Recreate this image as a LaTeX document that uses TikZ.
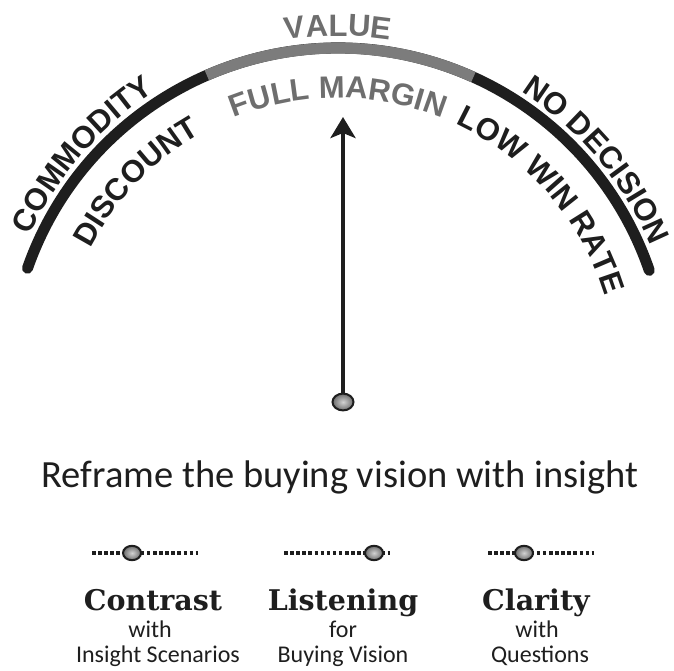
\documentclass[tikz,border=0pt]{standalone}
\usepackage{fontspec}
\setmainfont{Carlito}
\newfontfamily\gaugefont{Liberation Sans}
\newfontfamily\wordfont{DejaVu Serif}
\usetikzlibrary{arrows.meta,decorations.text,shapes.geometric,positioning}

\definecolor{ink}{HTML}{1E1E1E}
\definecolor{midgray}{HTML}{6E6E6E}
\definecolor{bandgray}{HTML}{7C7C7C}

\begin{document}
\begin{tikzpicture}[x=1pt,y=1pt,
  band/.style={line width=11, line cap=round, draw=ink},
  knob/.style={ellipse, draw=ink, line width=2, inner sep=0pt,
    inner color=gray!35, outer color=gray!85!black,
    minimum width=#1, minimum height=0.8*#1},
  dotline/.style={draw=ink, line width=3.5, dash pattern=on 3.5 off 2.6},
  word/.style={anchor=base, text=ink, font=\wordfont\bfseries\fontsize{28.5}{28.5}\selectfont},
  small/.style={anchor=base, text=ink, font=\fontsize{24}{24}\selectfont}]
  % page frame
  \useasboundingbox (0,0) rectangle (674,670);

  % the gauge arc
  \coordinate (centre) at (338,293);
  \draw[band] (centre) ++(160.7:329) arc[start angle=160.7, end angle=18.9, radius=329];
  \draw[line width=11, bandgray] (centre) ++(113.5:329) arc[start angle=113.5, end angle=65.7, radius=329];

  % labels round the arc
  \path[decorate, decoration={text along path, text align=center, text color=ink,
    text={|\gaugefont\bfseries\fontsize{31}{31}\selectfont|COMMODITY}}]
    (centre) ++(179:339) arc[start angle=179, end angle=99, radius=339];
  \path[decorate, decoration={text along path, text align=center, text color=ink,
    text={|\gaugefont\bfseries\fontsize{31}{31}\selectfont|DISCOUNT}}]
    (centre) ++(176:279) arc[start angle=176, end angle=96, radius=279];
  \path[decorate, decoration={text along path, text align=center, text color=midgray,
    text={|\gaugefont\bfseries\fontsize{31}{31}\selectfont|VALUE}}]
    (centre) ++(130:341) arc[start angle=130, end angle=50, radius=341];
  \path[decorate, decoration={text along path, text align=center, text color=midgray,
    text={|\gaugefont\bfseries\fontsize{31}{31}\selectfont|FULL MARGIN}}]
    (centre) ++(130:279) arc[start angle=130, end angle=50, radius=279];
  \path[decorate, decoration={text along path, text align=center, text color=ink,
    text={|\gaugefont\bfseries\fontsize{31}{31}\selectfont|LOW WIN RATE}}]
    (centre) ++(86:279) arc[start angle=86, end angle=-4, radius=279];
  \path[decorate, decoration={text along path, text align=center, text color=ink,
    text={|\gaugefont\bfseries\fontsize{31}{31}\selectfont|NO DECISION}}]
    (centre) ++(84:339) arc[start angle=84, end angle=-4, radius=339];

  % needle
  \coordinate (hub) at (343,268);
  \coordinate (tip) at (343,553);
  \draw[ink, line width=4.5, -{Stealth[length=21, width=25, inset=5]}] (hub) -- (tip);
  \node[knob=21] (hubknob) at (hub) {};

  \node[anchor=base, text=ink, font=\fontsize{38.5}{38.5}\selectfont] (title) at (340,183)
    {Reframe the buying vision with insight};

  % three skills
  \draw[dotline] (92,117) -- (198,117);
  \node[knob=18] (k1) at (132,117) {};
  \draw[dotline] (284,117) -- (390,117);
  \node[knob=18] (k2) at (374,117) {};
  \draw[dotline] (488,117) -- (594,117);
  \node[knob=18] (k3) at (524,117) {};

  \node[word] (w1) at (153,60) {Contrast};
  \node[word] (w2) at (343,60) {Listening};
  \node[word] (w3) at (536,60) {Clarity};

  \node[small] (a1) at (150,33) {with};
  \node[small] (a2) at (343,33) {for};
  \node[small] (a3) at (537,33) {with};
  \node[small] (b1) at (158,8) {Insight Scenarios};
  \node[small] (b2) at (343,8) {Buying Vision};
  \node[small] (b3) at (540,8) {Questions};
\end{tikzpicture}
\end{document}
